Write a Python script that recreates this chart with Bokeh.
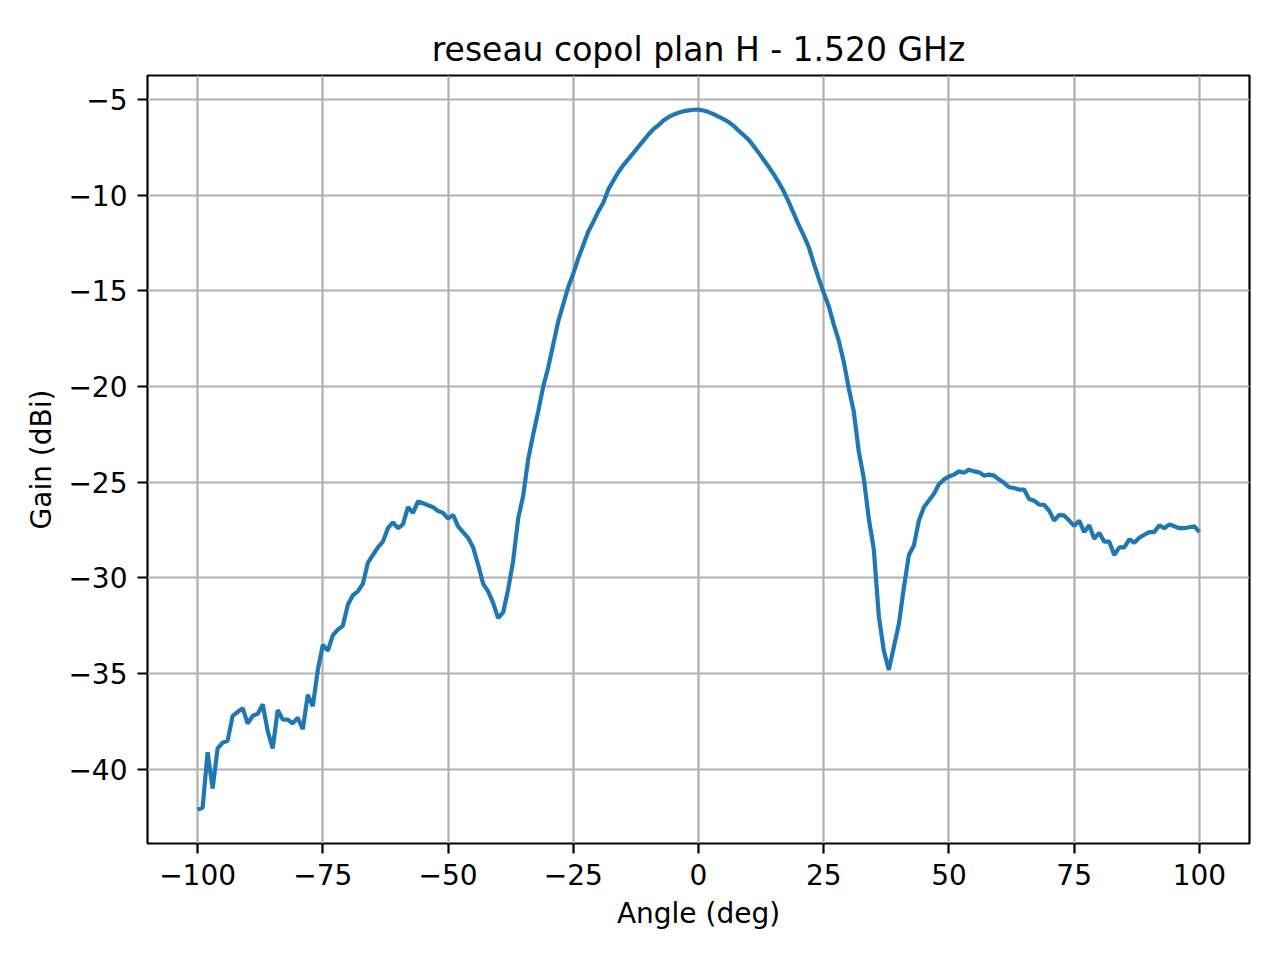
from bokeh.embed import file_html
from bokeh.models import ColumnDataSource, FixedTicker, Range1d
from bokeh.plotting import figure
from bokeh.resources import INLINE

# Measurement grid: one sample per degree from -100 to 100.
angles = list(range(-100, 101))

gain_dbi = [
    -42.1, -42.0, -39.1, -41.0, -38.9, -38.6, -38.5, -37.2, -37.0, -36.8,    # -100 .. -91
    -37.6, -37.2, -37.1, -36.6, -38.0, -38.9, -36.9, -37.4, -37.4, -37.6,    # -90 .. -81
    -37.3, -37.9, -36.1, -36.7, -34.8, -33.5, -33.8, -33.0, -32.7, -32.5,    # -80 .. -71
    -31.4, -30.9, -30.7, -30.3, -29.2, -28.8, -28.4, -28.1, -27.4, -27.1,    # -70 .. -61
    -27.4, -27.2, -26.3, -26.6, -26.0, -26.1, -26.2, -26.3, -26.5, -26.6,    # -60 .. -51
    -26.9, -26.7, -27.3, -27.6, -27.9, -28.4, -29.3, -30.3, -30.7, -31.3,    # -50 .. -41
    -32.1, -31.8, -30.6, -29.1, -26.9, -25.7, -23.8, -22.5, -21.3, -20.0,    # -40 .. -31
    -19.0, -17.8, -16.6, -15.7, -14.8, -14.1, -13.3, -12.6, -11.9, -11.4,    # -30 .. -21
    -10.85, -10.4, -9.7, -9.25, -8.8, -8.43, -8.12, -7.8, -7.47, -7.15,      # -20 .. -11
    -6.83, -6.55, -6.35, -6.1, -5.93, -5.8, -5.7, -5.62, -5.57, -5.54,       # -10 .. -1
    -5.53, -5.58, -5.66, -5.77, -5.9, -6.03, -6.18, -6.38, -6.63, -6.86,     # 0 .. 9
    -7.1, -7.43, -7.78, -8.15, -8.52, -8.9, -9.33, -9.8, -10.35, -10.95,     # 10 .. 19
    -11.55, -12.1, -12.7, -13.55, -14.35, -15.1, -15.8, -16.75, -17.6, -18.7,  # 20 .. 29
    -20.1, -21.3, -23.4, -24.8, -26.9, -28.5, -32.0, -33.8, -34.8, -33.6,    # 30 .. 39
    -32.4, -30.5, -28.8, -28.3, -27.0, -26.3, -25.95, -25.6, -25.1, -24.85,  # 40 .. 49
    -24.7, -24.6, -24.43, -24.5, -24.34, -24.43, -24.48, -24.65, -24.6, -24.65,  # 50 .. 59
    -24.86, -25.03, -25.26, -25.3, -25.38, -25.38, -25.87, -25.96, -26.17, -26.18,  # 60 .. 69
    -26.48, -27.0, -26.7, -26.74, -27.0, -27.28, -27.0, -27.6, -27.25, -27.95,  # 70 .. 79
    -27.64, -28.1, -28.1, -28.8, -28.4, -28.4, -27.98, -28.16, -27.9, -27.74,  # 80 .. 89
    -27.6, -27.6, -27.25, -27.4, -27.2, -27.3, -27.4, -27.4, -27.35, -27.3,  # 90 .. 99
    -27.6,                                                                    # 100
]
assert len(gain_dbi) == len(angles)

x_ticks = [-100, -75, -50, -25, 0, 25, 50, 75, 100]
x_tick_labels = ["\u2212100", "\u221275", "\u221250", "\u221225", "0", "25", "50", "75", "100"]
y_ticks = [-40, -35, -30, -25, -20, -15, -10, -5]
y_tick_labels = ["\u221240", "\u221235", "\u221230", "\u221225", "\u221220", "\u221215", "\u221210", "\u22125"]

title_text = "reseau copol plan H - 1.520 GHz"
x_label = "Angle (deg)"
y_label = "Gain (dBi)"

FONT = "DejaVu Sans"
LINE_BLUE = "#1f77b4"
GRID_GREY = "#b0b0b0"

source = ColumnDataSource(data=dict(angle=angles, gain=gain_dbi))

p = figure(
    frame_width=1102,
    frame_height=768,
    min_border_left=147,
    min_border_right=23,
    min_border_top=75,
    min_border_bottom=109,
    x_range=Range1d(-110, 110),
    y_range=Range1d(-43.87, -3.75),
    output_backend="svg",
    toolbar_location=None,
    title=title_text,
)

p.line("angle", "gain", source=source, line_color=LINE_BLUE, line_width=4.2)

# Title
p.title.align = "center"
p.title.text_font = FONT
p.title.text_font_size = "33px"
p.title.text_font_style = "normal"
p.title.text_color = "black"
p.title.standoff = 14

# Frame
p.outline_line_color = "black"
p.outline_line_width = 2.2
p.background_fill_color = "white"
p.border_fill_color = "white"

# Grid
p.grid.grid_line_color = GRID_GREY
p.grid.grid_line_width = 2.2

# Axes
p.xaxis.ticker = FixedTicker(ticks=x_ticks)
p.xaxis.major_label_overrides = dict(zip(x_ticks, x_tick_labels))
p.yaxis.ticker = FixedTicker(ticks=y_ticks)
p.yaxis.major_label_overrides = dict(zip(y_ticks, y_tick_labels))
p.xaxis.axis_label = x_label
p.yaxis.axis_label = y_label

for axis in (p.xaxis, p.yaxis):
    axis.axis_line_color = None
    axis.major_tick_in = 0
    axis.major_tick_out = 10
    axis.major_tick_line_width = 2.2
    axis.major_tick_line_color = "black"
    axis.minor_tick_line_color = None
    axis.major_label_text_font = FONT
    axis.major_label_text_font_size = "28px"
    axis.major_label_text_color = "black"
    axis.major_label_standoff = 10
    axis.axis_label_text_font = FONT
    axis.axis_label_text_font_size = "28px"
    axis.axis_label_text_font_style = "normal"
    axis.axis_label_text_color = "black"

p.xaxis.axis_label_standoff = 9
p.yaxis.axis_label_standoff = 7

open("out.html", "w").write(file_html(p, INLINE))
